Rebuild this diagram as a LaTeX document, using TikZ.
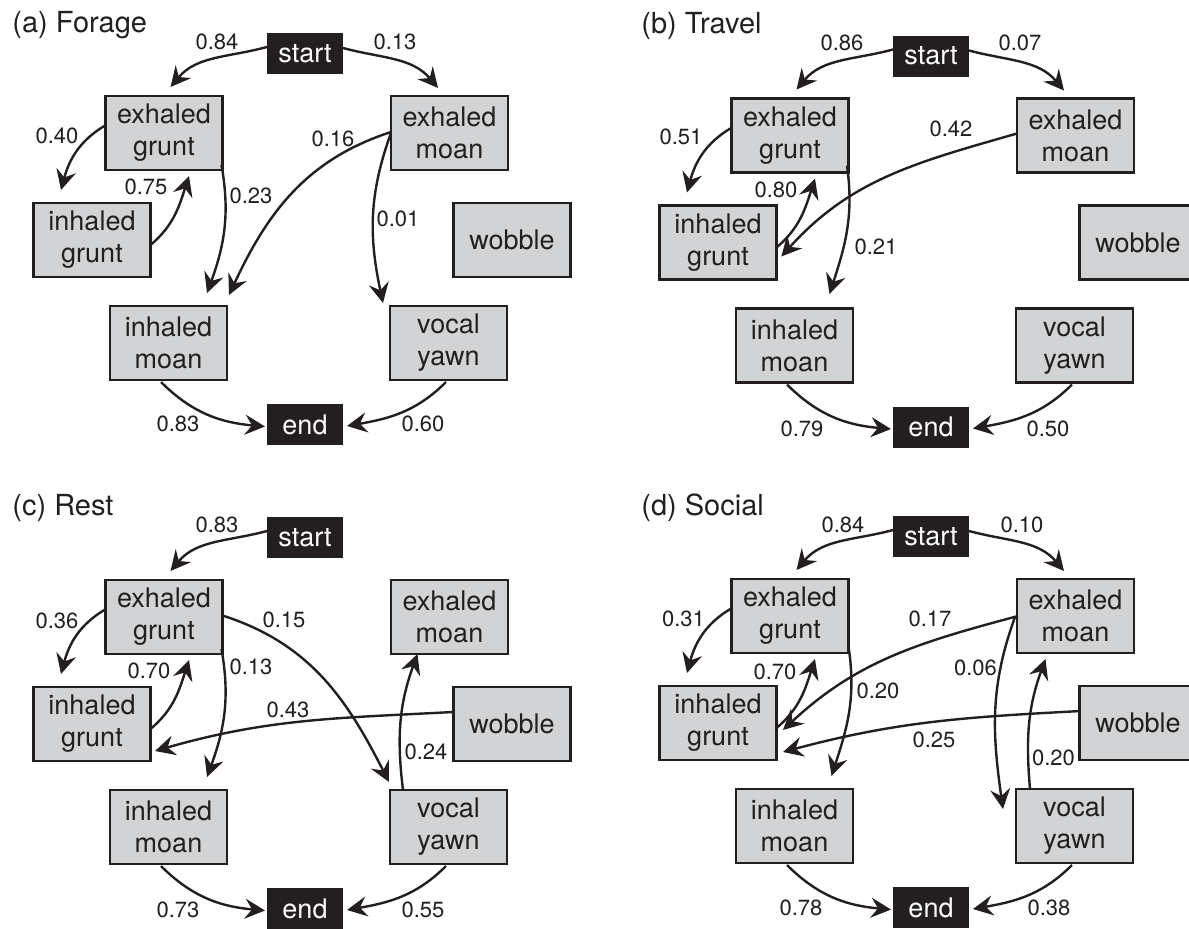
\documentclass[tikz,border=0pt]{standalone}
\usepackage{fontspec}
\setmainfont{TeX Gyre Heros}
\usetikzlibrary{arrows.meta,calc}
\definecolor{ink}{HTML}{231F20}
\definecolor{boxgray}{HTML}{D1D3D4}
\tikzset{
 state/.style={draw=ink, fill=boxgray, line width=1.3pt, minimum width=58.5pt, minimum height=37pt, inner sep=0pt, align=center, font=\fontsize{13.5}{16}\selectfont, text=ink},
 term/.style={fill=ink, minimum width=38pt, minimum height=20.5pt, inner sep=0pt, font=\fontsize{13.5}{16}\selectfont, text=white},
 prob/.style={font=\fontsize{11}{13}\selectfont, text=ink, inner sep=0pt},
 ttl/.style={font=\fontsize{14.5}{17}\selectfont, text=ink, inner sep=0pt, anchor=base west},
 arr/.style={draw=ink, line width=1.2pt, -{Stealth[length=10pt,width=10pt,inset=3.5pt]}},
}
\newcommand\mkpanel[3]{%
 \begin{scope}[shift={(#2,#3)}]
 \node[term] (#1s) at (305,53.5) {start};
 \node[state] (#1eg) at (164,133) {exhaled\\grunt};
 \node[state] (#1em) at (449.5,133) {exhaled\\moan};
 \node[state] (#1ig) at (92,240) {inhaled\\grunt};
 \node[state] (#1wob) at (512,240) {wobble};
 \node[state] (#1im) at (168.5,343) {inhaled\\moan};
 \node[state] (#1vy) at (448.5,343) {vocal\\yawn};
 \node[term] (#1e) at (305,424.5) {end};
 \end{scope}}
\newcommand\edge[6]{\draw[arr] ($(#1)+(#2)$) to[out=#5,in=#6] ($(#3)+(#4)$);}
\begin{document}
\begin{tikzpicture}[x=0.5pt,y=-0.5pt]
\useasboundingbox (0,0) rectangle (1189,928);
\clip (0,0) rectangle (1189,928);
% titles
\node[ttl] (ta) at (12,32) {(a) Forage};
\node[ttl] (tb) at (641,33) {(b) Travel};
\node[ttl] (tc) at (12,515) {(c) Rest};
\node[ttl] (td) at (641,515) {(d) Social};
% panels
\mkpanel{a}{0}{0}
\mkpanel{b}{626}{2.5}
\mkpanel{c}{0}{484}
\mkpanel{d}{626}{483}
% ---------- (a)
\edge{as}{-38,-6.5}{aeg}{6.5,-46}{195}{50}
\edge{as}{38,-5.5}{aem}{-11.5,-45}{-15}{130}
\edge{aeg}{-58,-8}{aig}{-31,-50}{210}{75}
\edge{aig}{58.5,5}{aeg}{25,43}{40}{252}
\edge{aeg}{57.5,32}{aim}{38.5,-50}{-80}{70}
\edge{aem}{-58.5,-1}{aim}{60.5,-48}{198}{65}
\edge{aem}{-58.5,0}{avy}{-65.5,-40}{250}{102}
\edge{aim}{-7.5,39}{ae}{-40,2}{-45}{175}
\edge{avy}{-2.5,39}{ae}{42,1.5}{225}{10}
\begin{scope}
\node[prob] (pa1) at (217,42) {0.84};
\node[prob] (pa2) at (395,42) {0.13};
\node[prob] (pa3) at (57,136) {0.40};
\node[prob] (pa4) at (333,139) {0.16};
\node[prob] (pa5) at (146,187) {0.75};
\node[prob] (pa6) at (251,196) {0.23};
\node[prob] (pa7) at (398,219) {0.01};
\node[prob] (pa8) at (178,424) {0.83};
\node[prob] (pa9) at (423,424) {0.60};
\end{scope}
% ---------- (b)
\edge{bs}{-38,-6.5}{beg}{6.5,-46}{195}{50}
\edge{bs}{38,-5.5}{bem}{-11.5,-45}{-15}{130}
\edge{beg}{-58,-8}{big}{-31,-50}{210}{75}
\edge{big}{58.5,5}{beg}{25,43}{40}{252}
\edge{beg}{57,30}{bim}{35,-51.5}{-82}{72}
\edge{bem}{-58.5,-2}{big}{63.3,14}{196}{48}
\edge{bim}{-7.5,39}{be}{-40,2}{-45}{175}
\edge{bvy}{-2.5,39}{be}{42,1.5}{225}{10}
\begin{scope}[shift={(626,2.5)}]
\node[prob] (pb1) at (216,40) {0.86};
\node[prob] (pb2) at (394,40) {0.07};
\node[prob] (pb3) at (55,134) {0.51};
\node[prob] (pb4) at (150,187) {0.80};
\node[prob] (pb5) at (325,126) {0.42};
\node[prob] (pb6) at (250,244) {0.21};
\node[prob] (pb7) at (176,426) {0.79};
\node[prob] (pb8) at (422,426) {0.50};
\end{scope}
% ---------- (c)
\edge{cs}{-38,-6.5}{ceg}{6.5,-46}{195}{50}
\edge{ceg}{-58,-8}{cig}{-31,-50}{210}{75}
\edge{cig}{58.5,5}{ceg}{25,43}{40}{252}
\edge{ceg}{57.5,32}{cim}{38.5,-50}{-80}{70}
\edge{ceg}{60,-1}{cvy}{-59.5,-45}{-18}{117}
\edge{cwob}{-59,-12}{cig}{63,27}{183}{16}
\edge{cvy}{-45.5,-37}{cem}{-32,37}{97}{250}
\edge{cim}{-7.5,39}{ce}{-40,2}{-45}{175}
\edge{cvy}{-2.5,39}{ce}{42,1.5}{225}{10}
\begin{scope}[shift={(0,484)}]
\node[prob] (pc1) at (217,41) {0.83};
\node[prob] (pc2) at (57,137) {0.36};
\node[prob] (pc3) at (149,187) {0.70};
\node[prob] (pc4) at (251,183) {0.13};
\node[prob] (pc5) at (284,136) {0.15};
\node[prob] (pc6) at (288,225.5) {0.43};
\node[prob] (pc7) at (426,267.5) {0.24};
\node[prob] (pc8) at (178,426) {0.73};
\node[prob] (pc9) at (423,426) {0.55};
\end{scope}
% ---------- (d)
\edge{ds}{-38,-6.5}{deg}{6.5,-46}{195}{50}
\edge{ds}{38,-5.5}{dem}{-11.5,-45}{-15}{130}
\edge{deg}{-58,-8}{dig}{-31,-50}{210}{75}
\edge{dig}{58.5,5}{deg}{25,43}{40}{252}
\edge{deg}{59,34}{dim}{37,-50}{-82}{72}
\edge{dem}{-57.5,0}{dig}{65,7}{195}{43}
\edge{dem}{-60.5,1}{dvy}{-71.5,-17}{250}{98}
\edge{dvy}{-44.5,-37}{dem}{-30,43}{95}{250}
\edge{dwob}{-57,-12}{dig}{65,29}{183}{15}
\edge{dim}{-7.5,39}{de}{-40,2}{-45}{175}
\edge{dvy}{-2.5,39}{de}{42,1.5}{225}{10}
\begin{scope}[shift={(626,483)}]
\node[prob] (pd1) at (217,41.5) {0.84};
\node[prob] (pd2) at (396,41.5) {0.10};
\node[prob] (pd3) at (57.5,136) {0.31};
\node[prob] (pd4) at (149,188.5) {0.70};
\node[prob] (pd5) at (304,136) {0.17};
\node[prob] (pd6) at (252,207.5) {0.20};
\node[prob] (pd7) at (349.5,185) {0.06};
\node[prob] (pd8) at (308,256.5) {0.25};
\node[prob] (pd9) at (427.5,274.5) {0.20};
\node[prob] (pd10) at (175,425) {0.78};
\node[prob] (pd11) at (423,425) {0.38};
\end{scope}
\end{tikzpicture}
\end{document}
